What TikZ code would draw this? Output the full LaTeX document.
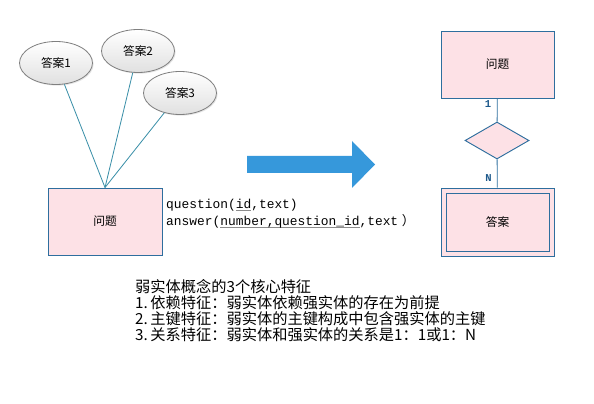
\documentclass[tikz,border=0pt]{standalone}
\usepackage{fontspec}
\setmainfont{Noto Sans CJK SC}
\newfontfamily\codefont{Liberation Mono}
\usepackage{xcolor}
\usepackage{tikz}
\usetikzlibrary{positioning,shapes.geometric,shadows}
\definecolor{EntC}{HTML}{FDE1E6}
\definecolor{EdgeC}{HTML}{2E6E9E}
\definecolor{AttrC}{HTML}{3A8FA8}
\definecolor{ArrC}{HTML}{3698DB}
\definecolor{CardC}{HTML}{1F5A8C}
\newlength{\keylen}
\newcommand{\keyline}[1]{\settowidth{\keylen}{#1}\rlap{\textcolor{black!45}{\rule[-2.6pt]{\keylen}{1.1pt}}}#1}

\begin{document}
\begin{tikzpicture}[x=0.03cm,y=-0.03cm,font=\fontsize{10}{12}\selectfont,
  ent/.style={draw=EdgeC,fill=EntC,line width=.8pt,inner sep=0pt},
  attr/.style={ellipse,draw=black!50,line width=.7pt,top color=white,bottom color=black!12,
    minimum width=2.19cm,minimum height=1.29cm,inner sep=0pt,
    drop shadow={opacity=.2,shadow xshift=1pt,shadow yshift=-1pt}},
  link/.style={AttrC,line width=.7pt},
  rel/.style={EdgeC,line width=.7pt},
  card/.style={font=\codefont\bfseries\fontsize{9}{10}\selectfont,color=CardC,inner sep=0pt}]
\useasboundingbox (0,0) rectangle (594,404);

% ---------- weak entity, flat ----------
\node[ent,minimum width=3.42cm,minimum height=2.01cm] (q) at (105,221.5) {问题};
\node[attr] (a1) at (56,63) {答案1};
\node[attr] (a2) at (138,51) {答案2};
\node[attr] (a3) at (180,93) {答案3};
\foreach \a in {a1,a2,a3}
  \draw[link] (q.north) -- (\a);

\node[anchor=west,align=left,inner sep=0pt,font=\codefont\fontsize{11}{14.5}\selectfont] (schema) at (166,213.5)
  {question(\keyline{id},text)\\answer(\keyline{number,question\_id},text\hspace{3pt}{\rmfamily ）}};

% ---------- arrow ----------
\fill[ArrC] (247,156) -- (352,156) -- (352,141) -- (375,164.5) -- (352,188) -- (352,173) -- (247,173) -- cycle;

% ---------- weak entity, E-R ----------
\node[ent,minimum width=3.39cm,minimum height=2.01cm] (rq) at (497.5,64.5) {问题};
\node[diamond,ent,minimum width=1.92cm,minimum height=1.11cm] (has) at (497,140.5) {};
\node[ent,minimum width=3.39cm,minimum height=2.04cm] (ra) at (497.5,222) {};
\node[ent,minimum width=3.09cm,minimum height=1.74cm] (rain) at (ra) {答案};
\draw[rel] (rq) -- (has);
\draw[rel] (has) -- (ra);
\node[card] (one) at (488,104.5) {1};
\node[card] (many) at (488.5,178.5) {N};

% ---------- notes ----------
\node[anchor=north west,align=left,inner sep=0pt,font=\fontsize{13}{13.7}\selectfont] (notes) at (135,279)
  {弱实体概念的3个核心特征\\
   1.\,依赖特征：弱实体依赖强实体的存在为前提\\
   2.\,主键特征：弱实体的主键构成中包含强实体的主键\\
   3.\,关系特征：弱实体和强实体的关系是1：1或1：N};
\end{tikzpicture}
\end{document}
